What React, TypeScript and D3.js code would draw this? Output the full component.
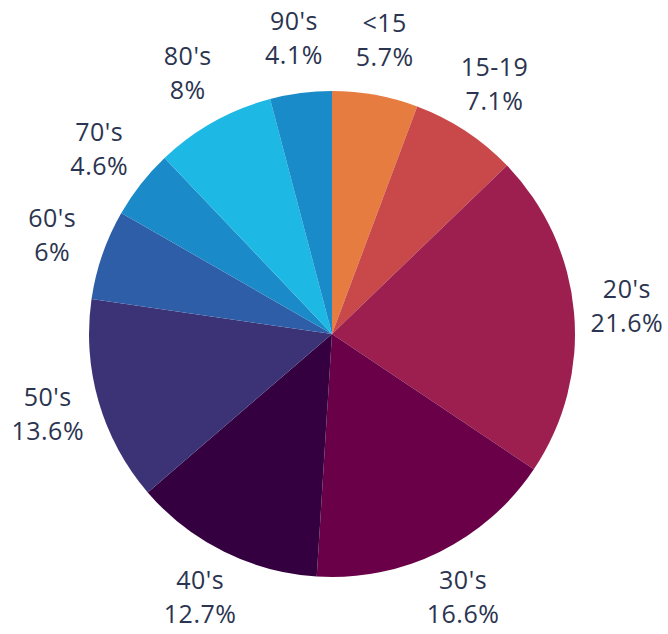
import React from "react";
import * as d3 from "d3";

const categories = ["<15", "15-19", "20's", "30's", "40's", "50's", "60's", "70's", "80's", "90's"];
const values = [5.7, 7.1, 21.6, 16.6, 12.7, 13.6, 6, 4.6, 8, 4.1];
const colors = ["#e67c40", "#c9494a", "#9d1f4f", "#690048", "#34003f", "#3b3375", "#2f5ea8", "#1b8ac8", "#1db9e4", "#1a8bc9"];

const W = 668;
const H = 634;

export default function App() {
  const cx = 332;
  const cy = 334;
  const r = 243;
  const labelR = 296;
  const data = categories.map((c, i) => ({ name: c, value: values[i], color: colors[i] }));
  const pie = d3.pie<any>().sort(null).value((d: any) => d.value);
  const arcs = pie(data);
  const arc = d3.arc<any>().innerRadius(0).outerRadius(r);
  const labelArc = d3.arc<any>().innerRadius(labelR).outerRadius(labelR);
  return (
    <svg width={W} height={H} style={{ position: "absolute", left: 0, top: 0 }}>
      <g transform={`translate(${cx},${cy})`}>
        {arcs.map((a, i) => (
          <path key={i} d={arc(a) as string} fill={a.data.color} />
        ))}
        {arcs.map((a, i) => {
          const [x, y] = labelArc.centroid(a);
          return (
            <text
              key={"l" + i}
              x={x}
              y={y}
              textAnchor="middle"
              fontFamily="'Open Sans', sans-serif"
              fontSize={25}
              fontWeight={500}
              letterSpacing={0.5}
              fill="#2b3450"
            >
              <tspan x={x} y={y - 17} dominantBaseline="middle">{a.data.name}</tspan>
              <tspan x={x} y={y + 17} dominantBaseline="middle">{a.data.value + "%"}</tspan>
            </text>
          );
        })}
      </g>
    </svg>
  );
}
